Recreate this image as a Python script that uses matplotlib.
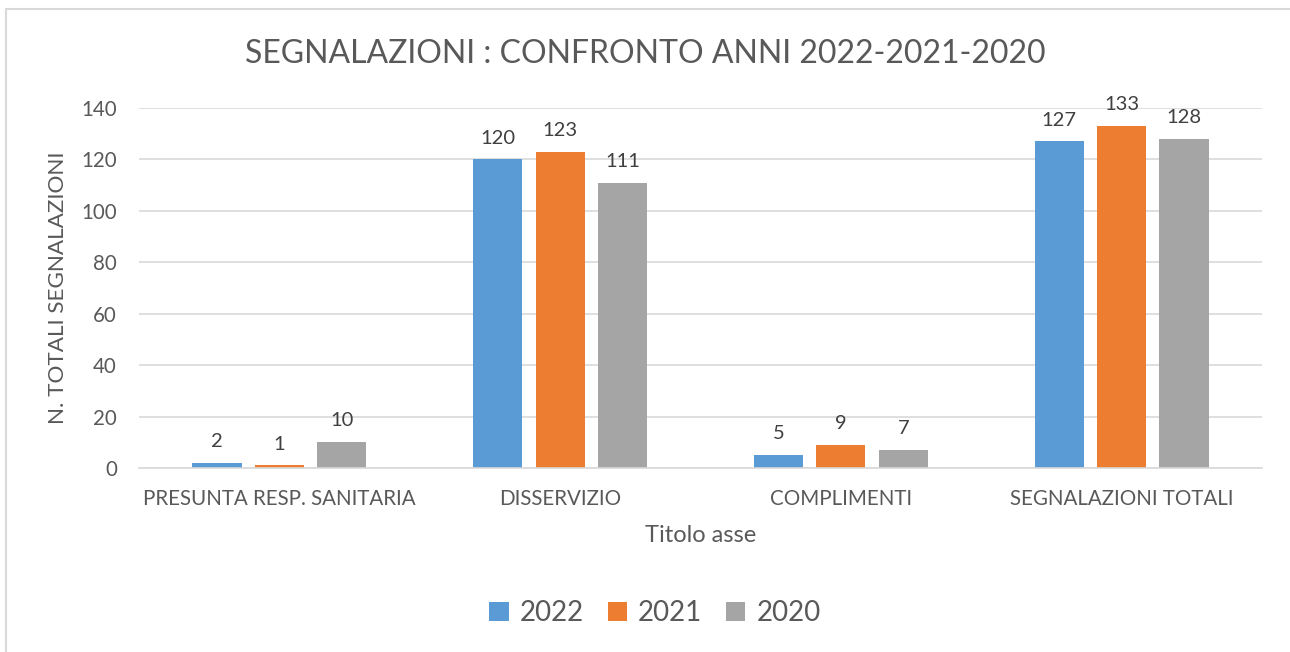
import matplotlib.pyplot as plt
import numpy as np
from matplotlib.patches import Rectangle

categories = ["PRESUNTA RESP. SANITARIA", "DISSERVIZIO", "COMPLIMENTI", "SEGNALAZIONI TOTALI"]
years = ["2022", "2021", "2020"]
v2022 = [2, 120, 5, 127]
v2021 = [1, 123, 9, 133]
v2020 = [10, 111, 7, 128]
colors = ["#5B9BD5", "#ED7D31", "#A5A5A5"]

plt.rcParams['font.family'] = ['Lato', 'DejaVu Sans']
W, H = 1290, 652
fig = plt.figure(figsize=(W/100, H/100), dpi=100)
fig.patches.append(Rectangle((6/W, -0.2), 1.2, 1.2 - 9/H, transform=fig.transFigure,
                             fill=False, edgecolor="#D9D9D9", linewidth=1.5))

ax = fig.add_axes([139/W, 1 - 468/H, (1262-139)/W, (468-108)/H])
x = np.arange(len(categories))
bw = 0.175
off = 0.222
txt = "#595959"
for i, (vals, c, lab) in enumerate(zip([v2022, v2021, v2020], colors, years)):
    pos = x + (i - 1) * off
    ax.bar(pos, vals, width=bw, color=c, label=lab)
    for p, v in zip(pos, vals):
        ax.text(p, v + 5, str(v), ha="center", va="bottom", fontsize=14.5, color="#404040")

ax.set_xlim(-0.5, 3.5)
ax.set_ylim(0, 140)
ax.set_yticks(range(0, 141, 20))
ax.grid(axis="y", color="#D9D9D9", linewidth=1.2)
ax.set_axisbelow(True)
for s in ["top", "right", "left"]:
    ax.spines[s].set_visible(False)
ax.spines["bottom"].set_color("#D9D9D9")
ax.spines["bottom"].set_linewidth(1.2)
ax.tick_params(axis="both", length=0, labelsize=14.8, colors=txt)
ax.tick_params(axis="y", pad=16)
ax.tick_params(axis="x", pad=15)
ax.set_xticks(x)
ax.set_xticklabels(categories)
ax.set_xlabel("Titolo asse", fontsize=17, color=txt, labelpad=12)
ax.set_ylabel("N. TOTALI SEGNALAZIONI", fontsize=16.2, color=txt)
ax.yaxis.set_label_coords((68 - 139) / (1262 - 139), 0.5)
fig.text(645/W, 1 - 54/H, "SEGNALAZIONI : CONFRONTO ANNI 2022-2021-2020", ha="center", va="center",
         fontsize=23, color=txt)
leg = fig.legend(loc="center", bbox_to_anchor=(655/W, 1 - 613/H), ncol=3, frameon=False,
                 fontsize=20, handlelength=0.7, handleheight=0.7, handletextpad=0.4, columnspacing=0.85)
for t in leg.get_texts():
    t.set_color(txt)
fig.savefig("out.png", dpi=100)
